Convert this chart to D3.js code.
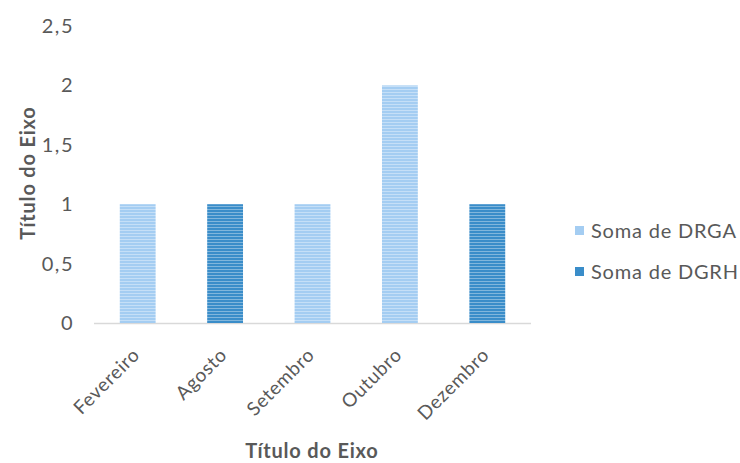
<!DOCTYPE html>
<html><head><meta charset="utf-8">
<script src="https://cdn.jsdelivr.net/npm/d3@7"></script>
<style>body{margin:0;background:#fff}svg{display:block}</style>
</head><body>
<svg id="c" width="740" height="463"></svg>
<script>
const categories = ["Fevereiro","Agosto","Setembro","Outubro","Dezembro"];
const seriesNames = ["Soma de DRGA","Soma de DGRH"];
const drga = [1,0,1,2,0];
const dgrh = [0,1,0,0,1];
const yTicks = [0,0.5,1,1.5,2,2.5];
const colors = ["#a4cdf2","#3a8dc9"];
const font = "Lato, 'Open Sans', sans-serif";

const svg = d3.select("#c");
const x = d3.scaleBand().domain(categories).range([94,531]).paddingInner(0.59).paddingOuter(0.295);
const y = d3.scaleLinear().domain([0,2.5]).range([323,26]);

const rows = categories.map((c,i)=>({cat:c, "Soma de DRGA":drga[i], "Soma de DGRH":dgrh[i]}));
const stack = d3.stack().keys(seriesNames)(rows);

const defs = svg.append("defs");
colors.forEach((col,i)=>{
  const p = defs.append("pattern").attr("id","p"+i).attr("patternUnits","userSpaceOnUse")
    .attr("width",6).attr("height",3);
  p.append("rect").attr("width",6).attr("height",3).attr("fill",col);
  p.append("rect").attr("y",2).attr("width",6).attr("height",0.8).attr("fill","#fff").attr("opacity",0.45);
});

// axis line
svg.append("line").attr("x1",94).attr("x2",531).attr("y1",y(0)+0.5).attr("y2",y(0)+0.5)
  .attr("stroke","#d9d9d9").attr("stroke-width",1.5);

stack.forEach((s,si)=>{
  svg.append("g").selectAll("rect").data(s.filter(d=>d[1]-d[0]>0)).join("rect")
    .attr("x",d=>x(d.data.cat)).attr("width",x.bandwidth())
    .attr("y",d=>y(d[1])).attr("height",d=>y(d[0])-y(d[1]))
    .attr("fill","url(#p"+si+")");
});

// y axis
const fmt = v => String(v).replace(".",",");
const ya = svg.append("g").attr("transform","translate(81,0)")
  .call(d3.axisLeft(y).tickValues(yTicks).tickFormat(fmt).tickSize(0).tickPadding(7));
ya.select(".domain").remove();
ya.selectAll("text").attr("font-family",font).attr("font-size",20).attr("letter-spacing","1.5px").attr("fill","#595959");

// x axis
const xa = svg.append("g").attr("transform","translate(0,"+(y(0))+")")
  .call(d3.axisBottom(x).tickSize(0));
xa.select(".domain").remove();
xa.selectAll("text").attr("font-family",font).attr("font-size",19).attr("letter-spacing","0.7px").attr("fill","#595959")
  .attr("text-anchor","end").attr("dy",0)
  .attr("transform","translate(1,31) rotate(-45)");

// titles
svg.append("text").attr("x",312).attr("y",458).attr("text-anchor","middle")
  .attr("font-family",font).attr("font-weight","bold").attr("font-size",20).attr("letter-spacing","0.8px").attr("fill","#595959")
  .text("Título do Eixo");
svg.append("text").attr("transform","translate(35,173) rotate(-90)").attr("text-anchor","middle")
  .attr("font-family",font).attr("font-weight","bold").attr("font-size",20).attr("letter-spacing","0.8px").attr("fill","#595959")
  .text("Título do Eixo");

// legend
const lg = svg.append("g");
seriesNames.forEach((n,i)=>{
  const yy = 231 + i*41;
  lg.append("rect").attr("x",575).attr("y",yy-5).attr("width",9).attr("height",9).attr("fill",colors[i]);
  lg.append("text").attr("x",591).attr("y",yy).attr("dy","0.35em").attr("font-family",font)
    .attr("font-size",20).attr("letter-spacing","0.8px").attr("fill","#595959").text(n);
});
</script>
</body></html>
